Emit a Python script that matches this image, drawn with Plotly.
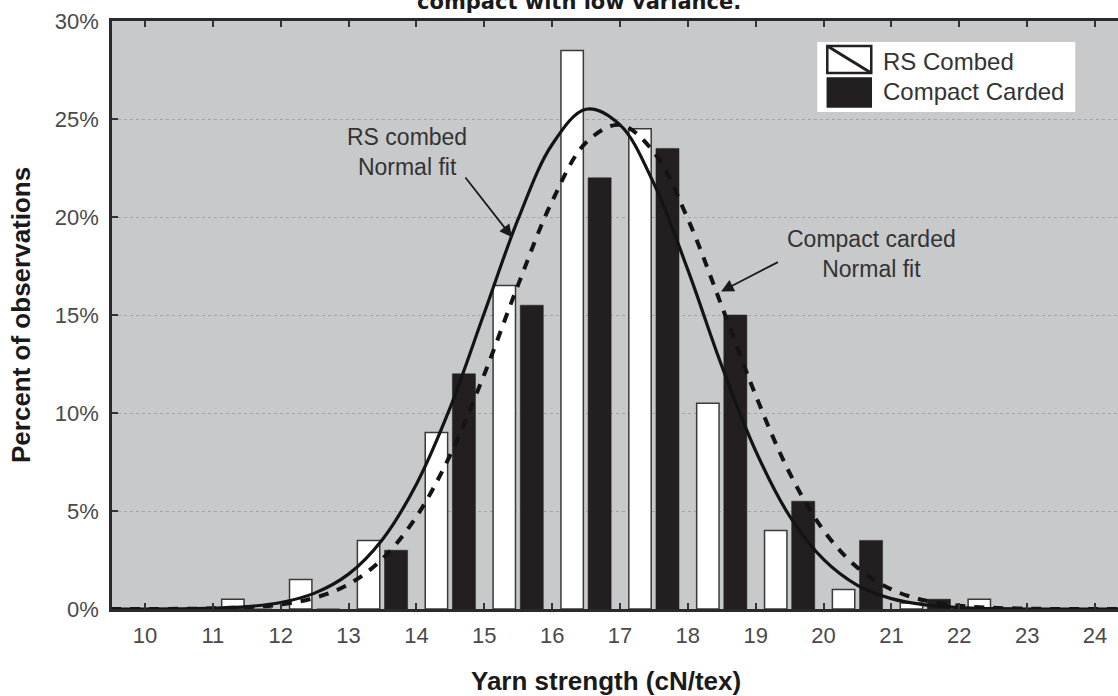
import plotly.graph_objects as go

# ---- data ----
bin_start = [10, 11, 12, 13, 14, 15, 16, 17, 18, 19, 20, 21, 22, 23]
rs_combed = [0, 0.5, 1.5, 3.5, 9.0, 16.5, 28.5, 24.5, 10.5, 4.0, 1.0, 0.3, 0.5, 0]
compact_carded = [0, 0, 0, 3.0, 12.0, 15.5, 22.0, 23.5, 15.0, 5.5, 3.5, 0.5, 0, 0]

fit_x = [9.5, 10, 10.5, 11, 11.5, 12, 12.5, 13, 13.5, 14, 14.5, 15, 15.5, 16, 16.5,
         17, 17.5, 18, 18.5, 19, 19.5, 20, 20.5, 21, 21.5, 22, 22.5, 23, 23.5, 24, 24.5]
rs_fit = [0, 0, 0.01, 0.04, 0.12, 0.33, 0.81, 1.78, 3.55, 6.37, 10.3, 15.1, 19.9, 23.7, 25.5,
          24.7, 21.7, 17.3, 12.4, 8.06, 4.74, 2.53, 1.21, 0.53, 0.21, 0.07, 0.02, 0, 0, 0, 0]
cc_fit = [0, 0, 0.01, 0.03, 0.09, 0.23, 0.57, 1.26, 2.56, 4.71, 7.87, 11.97, 16.55, 20.8, 23.8,
          24.7, 23.3, 19.9, 15.45, 10.9, 6.94, 4.01, 2.11, 1.0, 0.43, 0.17, 0.06, 0.02, 0, 0, 0]

x_ticks = list(range(10, 25))
y_ticks = [0, 5, 10, 15, 20, 25, 30]
y_ticktext = [f"{v}%" for v in y_ticks]

series_names = ["RS Combed", "Compact Carded"]
title_text = "compact with low variance."
x_title = "Yarn strength (cN/tex)"
y_title = "Percent of observations"

centers = [b + 0.5 for b in bin_start]

FONT = "Liberation Sans, Arial, sans-serif"
DARK = "#231f20"

fig = go.Figure()
fig.add_trace(go.Bar(x=centers, y=rs_combed, offset=-0.37, width=0.33,
                     marker=dict(color="white", line=dict(color="#3a3a3a", width=1.5)),
                     name=series_names[0], showlegend=False))
fig.add_trace(go.Bar(x=centers, y=compact_carded, offset=0.03, width=0.34,
                     marker=dict(color=DARK, line=dict(color=DARK, width=0.5)),
                     name=series_names[1], showlegend=False))
fig.add_trace(go.Scatter(x=fit_x, y=rs_fit, mode="lines", line=dict(color="#141414", width=3.2, shape="spline"),
                         showlegend=False, name="RS combed Normal fit"))
fig.add_trace(go.Scatter(x=fit_x, y=cc_fit, mode="lines",
                         line=dict(color="#141414", width=4, shape="spline", dash="10px,9px"),
                         showlegend=False, name="Compact carded Normal fit"))

fig.update_layout(
    width=1118, height=696,
    margin=dict(l=112, r=0, t=21, b=87),
    paper_bgcolor="white", plot_bgcolor="#c8c9cb",
    barmode="overlay",
    font=dict(family=FONT, size=22, color="#4a4a4a"),
)
fig.update_xaxes(range=[9.514, 24.339], tickvals=x_ticks, ticks="inside", ticklen=6, tickwidth=2,
                 tickcolor="#333", showline=True, linecolor="#2a2a2a", linewidth=2.8, mirror="ticks",
                 showgrid=False, zeroline=False, ticklabelstandoff=5,
                 tickfont=dict(family=FONT, size=22, color="#4a4a4a"))
fig.update_yaxes(range=[0, 30], tickvals=y_ticks, ticktext=y_ticktext, ticks="inside", ticklen=6, tickwidth=2,
                 tickcolor="#333", showline=True, linecolor="#2a2a2a", linewidth=2.5, mirror=False,
                 showgrid=True, gridcolor="#a4a4a6", gridwidth=1, griddash="dot", zeroline=False,
                 ticklabelstandoff=6, tickfont=dict(family=FONT, size=22, color="#4a4a4a"))

ann = []
# cut-off title at the top (as in the reference)
ann.append(dict(text=f"<b>{title_text}</b>", xref="paper", yref="paper", x=(579 - 112) / 1006, y=1,
                xanchor="center", yanchor="bottom", yshift=5, showarrow=False,
                font=dict(family="DejaVu Sans", size=21, color="#1a1a1a")))
# axis titles
ann.append(dict(text=f"<b>{x_title}</b>", xref="paper", yref="paper", x=(606 - 112) / 1006, y=0,
                xanchor="center", yanchor="middle", yshift=-(681 - 609), showarrow=False,
                font=dict(family=FONT, size=26, color="#1a1a1a")))
ann.append(dict(text=f"<b>{y_title}</b>", xref="paper", yref="paper", x=0, y=0.5, textangle=-90,
                xanchor="center", yanchor="middle", xshift=-(112 - 21), showarrow=False,
                font=dict(family=FONT, size=26, color="#1a1a1a")))
# fit labels
ann.append(dict(text="RS combed<br>Normal fit", x=13.86, y=23.3, xref="x", yref="y", showarrow=False,
                font=dict(family=FONT, size=23, color="#333")))
ann.append(dict(text="Compact carded<br>Normal fit", x=20.70, y=18.1, xref="x", yref="y", showarrow=False,
                font=dict(family=FONT, size=23, color="#333")))
# arrows
ann.append(dict(text="", x=15.41, y=18.97, ax=14.705, ay=22.09, xref="x", yref="y", axref="x", ayref="y",
                showarrow=True, arrowhead=2, arrowsize=1.4, arrowwidth=1.8, arrowcolor="#1a1a1a"))
ann.append(dict(text="", x=18.49, y=16.2, ax=19.35, ay=17.74, xref="x", yref="y", axref="x", ayref="y",
                showarrow=True, arrowhead=2, arrowsize=1.4, arrowwidth=1.8, arrowcolor="#1a1a1a"))
# legend texts
ann.append(dict(text=series_names[0], x=20.85, y=27.91, xref="x", yref="y", xanchor="left", yanchor="middle",
                showarrow=False, font=dict(family=FONT, size=24, color="#333")))
ann.append(dict(text=series_names[1], x=20.85, y=26.38, xref="x", yref="y", xanchor="left", yanchor="middle",
                showarrow=False, font=dict(family=FONT, size=24, color="#333")))

shapes = [
    dict(type="rect", xref="x", yref="y", x0=19.907, x1=23.709, y0=25.36, y1=28.93,
         fillcolor="white", line=dict(width=0), layer="above"),
    dict(type="rect", xref="x", yref="y", x0=20.055, x1=20.703, y0=27.35, y1=28.72,
         fillcolor="white", line=dict(color=DARK, width=2.5), layer="above"),
    dict(type="line", xref="x", yref="y", x0=20.055, x1=20.703, y0=28.72, y1=27.35,
         line=dict(color=DARK, width=3), layer="above"),
    dict(type="rect", xref="x", yref="y", x0=20.055, x1=20.703, y0=25.61, y1=27.09,
         fillcolor=DARK, line=dict(color=DARK, width=1.5), layer="above"),
]
fig.update_layout(annotations=ann, shapes=shapes)

fig.write_html("out.html", config={"displayModeBar": False},
               post_script="document.body.style.margin='0';document.body.style.overflow='hidden';")
